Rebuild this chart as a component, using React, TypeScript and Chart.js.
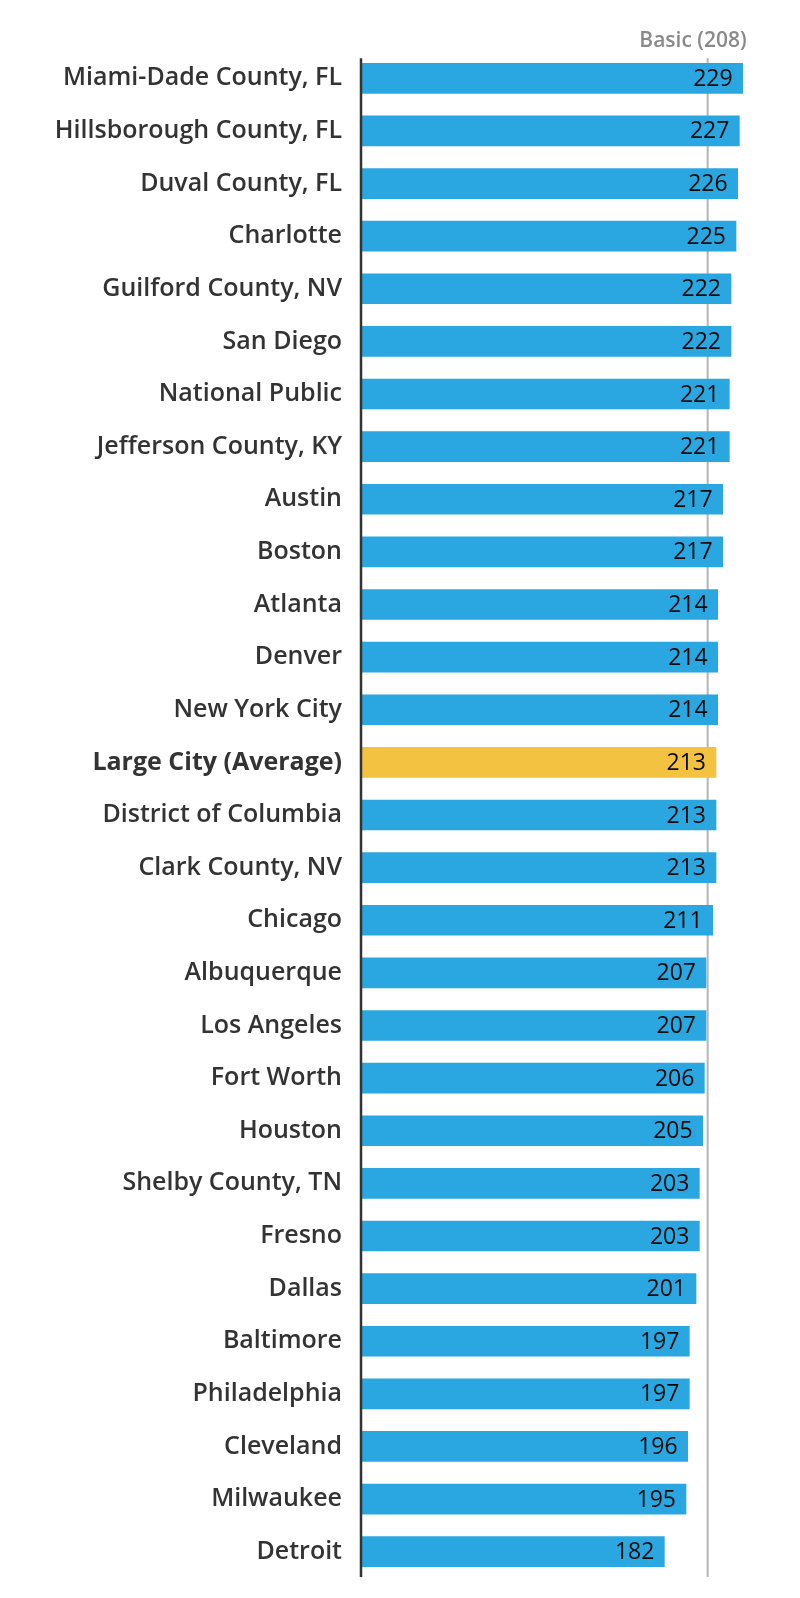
import React, { useEffect, useRef } from "react";
import { Chart, registerables } from "chart.js";

Chart.register(...registerables);

const categories: string[] = [
  "Miami-Dade County, FL",
  "Hillsborough County, FL",
  "Duval County, FL",
  "Charlotte",
  "Guilford County, NV",
  "San Diego",
  "National Public",
  "Jefferson County, KY",
  "Austin",
  "Boston",
  "Atlanta",
  "Denver",
  "New York City",
  "Large City (Average)",
  "District of Columbia",
  "Clark County, NV",
  "Chicago",
  "Albuquerque",
  "Los Angeles",
  "Fort Worth",
  "Houston",
  "Shelby County, TN",
  "Fresno",
  "Dallas",
  "Baltimore",
  "Philadelphia",
  "Cleveland",
  "Milwaukee",
  "Detroit",
];

const scores: number[] = [
  229, 227, 226, 225, 222, 222, 221, 221, 217, 217, 214, 214, 214, 213, 213,
  213, 211, 207, 207, 206, 205, 203, 203, 201, 197, 197, 196, 195, 182,
];

const highlightLabel = "Large City (Average)";
const basicValue = 208;
const basicLabel = "Basic (208)";

const FONT = "'Open Sans', 'Noto Sans', sans-serif";

export default function App() {
  const canvasRef = useRef<HTMLCanvasElement | null>(null);

  useEffect(() => {
    if (!canvasRef.current) return;
    const colors = categories.map((c) =>
      c === highlightLabel ? "#F4C241" : "#2AA7E0"
    );

    const overlay = {
      id: "overlay",
      beforeDatasetsDraw(chart: any) {
        const { ctx, chartArea, scales } = chart;
        const x = scales.x.getPixelForValue(basicValue);
        const meta = chart.getDatasetMeta(0);
        const first = meta.data[0] as any;
        const top = first.y - first.height / 2 - 5;
        ctx.save();
        ctx.strokeStyle = "#B5B5B5";
        ctx.lineWidth = 2;
        ctx.beginPath();
        ctx.moveTo(x, top);
        ctx.lineTo(x, chartArea.bottom - 1);
        ctx.stroke();
        ctx.restore();
      },
      afterDatasetsDraw(chart: any) {
        const { ctx, chartArea, scales } = chart;
        const meta = chart.getDatasetMeta(0);
        const first = meta.data[0] as any;
        const top = first.y - first.height / 2 - 5;
        ctx.save();
        // y axis line
        ctx.strokeStyle = "#333333";
        ctx.lineWidth = 2.5;
        ctx.beginPath();
        ctx.moveTo(chartArea.left, top);
        ctx.lineTo(chartArea.left, chartArea.bottom - 1);
        ctx.stroke();
        // value labels
        ctx.fillStyle = "#0A0A0A";
        ctx.font = `500 23px ${FONT}`;
        ctx.textAlign = "right";
        ctx.textBaseline = "middle";
        meta.data.forEach((bar: any, i: number) => {
          ctx.fillText(String(scores[i]), bar.x - 10, bar.y + 1);
        });
        // basic label
        const x = scales.x.getPixelForValue(basicValue);
        ctx.fillStyle = "#8A8A8A";
        ctx.font = `600 21px ${FONT}`;
        ctx.textAlign = "right";
        ctx.fillText(basicLabel, x + 39, top - 17);
        ctx.restore();
      },
    };

    const chart = new Chart(canvasRef.current, {
      type: "bar",
      data: {
        labels: categories,
        datasets: [
          {
            data: scores,
            backgroundColor: colors,
            borderWidth: 0,
            barThickness: 30,
          },
        ],
      },
      options: {
        indexAxis: "y",
        animation: false,
        responsive: true,
        maintainAspectRatio: false,
        layout: { padding: { top: 44, bottom: 12, left: 0, right: 6 } },
        plugins: {
          legend: { display: false },
          tooltip: { enabled: false },
        },
        scales: {
          x: {
            display: false,
            min: 0,
            max: 255,
          },
          y: {
            grid: { display: false, drawTicks: false },
            border: { display: false },
            afterFit(scale: any) {
              scale.width = 353;
              scale.paddingTop = 0;
              scale.paddingBottom = 0;
            },
            ticks: {
              padding: 19,
              color: "#333333",
              font: (ctx: any) => ({
                family: FONT,
                size: 25,
                weight: categories[ctx.index] === highlightLabel ? "bold" : 600,
              }),
            },
          },
        },
      },
      plugins: [overlay],
    });
    return () => chart.destroy();
  }, []);

  return (
    <div style={{ width: 784, height: 1582, position: "relative" }}>
      <canvas ref={canvasRef} />
    </div>
  );
}
